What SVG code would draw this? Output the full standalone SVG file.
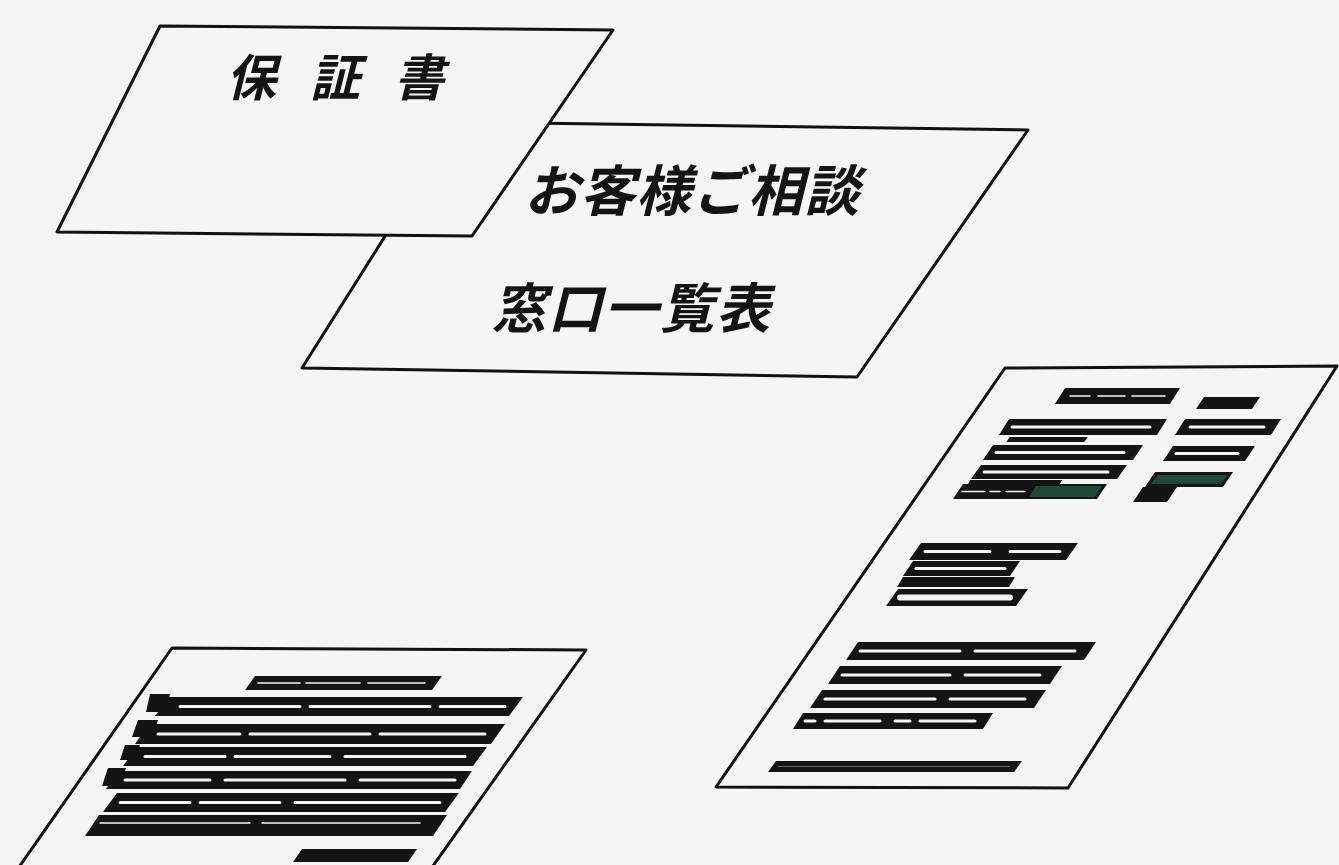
<svg xmlns="http://www.w3.org/2000/svg" width="1339" height="865" viewBox="0 0 1339 865">
<style>
.page{fill:#f5f5f5;stroke:#111;stroke-width:3;stroke-linejoin:round}
.bk{fill:#141414}
.gr{fill:#1e4a35}
.wl{stroke:#f5f5f5;stroke-width:3;stroke-linecap:round;fill:none}
.wt{stroke:#f5f5f5;stroke-width:1.5;stroke-linecap:round;fill:none}
.tx{font-family:"Noto Sans CJK JP","Noto Sans CJK SC",sans-serif;font-weight:700;font-style:italic;fill:#141414}
</style>
<rect width="1339" height="865" fill="#f5f5f5"/>
<g id="connectors"/>

<g id="doc-contact-list">
<polygon class="page" points="457,122 1028,130 857,377 302,368"/>
<text class="tx" x="524" y="211" font-size="55" letter-spacing="1">お客様ご相談</text>
<text class="tx" x="492" y="328" font-size="54" letter-spacing="2">窓口一覧表</text>
</g>

<g id="doc-warranty">
<polygon class="page" points="160,26 613,30 472,236 57,232"/>
<text class="tx" x="226" y="96" font-size="50" letter-spacing="34">保証書</text>
</g>

<g id="doc-manual-right">
<polygon class="page" points="1005,368 1337,366 1068,788 716,787"/>
<polygon class="bk" points="1065,388 1180,388 1170,404 1055,404"/>
<path class="wt" d="M1070,396 H1090 M1098,396 H1125 M1132,396 H1165"/>
<polygon class="bk" points="1204,397 1260,397 1252,409 1196,409"/>
<polygon class="bk" points="1009,419 1167,419 1157,435 999,435"/>
<line class="wl" x1="1012" y1="427" x2="1150" y2="427"/>
<polygon class="bk" points="1185,419 1281,419 1271,435 1175,435"/>
<line class="wl" x1="1190" y1="427" x2="1264" y2="427"/>
<polygon class="bk" points="1010,437 1088,437 1084,442 1006,442"/>
<polygon class="bk" points="993,445 1143,445 1133,460 983,460"/>
<line class="wl" x1="996" y1="452.5" x2="1124" y2="452.5"/>
<polygon class="bk" points="1173,446 1255,446 1245,461 1163,461"/>
<line class="wl" x1="1176" y1="453.5" x2="1238" y2="453.5"/>
<polygon class="bk" points="981,465 1127,465 1117,479 971,479"/>
<line class="wl" x1="984" y1="472" x2="1108" y2="472"/>
<polygon class="bk" points="970,480 1062,480 1060,484 968,484"/>
<polygon class="bk" points="963,484 1107,484 1097,499 953,499"/>
<polygon class="gr" points="1036,486 1102,486 1095,497 1029,497"/>
<path class="wt" d="M962,491.5 H985 M990,491.5 H1000 M1006,491.5 H1025"/>
<polygon class="bk" points="1155,472 1233,472 1223,487 1145,487"/>
<polygon class="gr" points="1158,475 1228,475 1221,484 1151,484"/>
<polygon class="bk" points="1143,487 1177,487 1167,502 1133,502"/>
<polygon class="bk" points="921,543 1078,543 1066,560 909,560"/>
<path class="wl" d="M925,551.5 H990 M1010,551.5 H1060"/>
<polygon class="bk" points="913,561 1020,561 1010,576 903,576"/>
<line class="wl" x1="916" y1="568.5" x2="1005" y2="568.5"/>
<polygon class="bk" points="903,577 1015,577 1009,587 897,587"/>
<polygon class="bk" points="898,589 1028,589 1016,606 886,606"/>
<line class="wl" x1="900" y1="597.5" x2="1010" y2="597.5" style="stroke-width:6"/>
<polygon class="bk" points="858,642 1096,642 1084,660 846,660"/>
<path class="wl" d="M860,651 H960 M975,651 H1075"/>
<polygon class="bk" points="840,666 1062,666 1050,684 828,684"/>
<path class="wl" d="M842,675 H950 M965,675 H1040"/>
<polygon class="bk" points="822,690 1046,690 1034,708 810,708"/>
<path class="wl" d="M825,699 H935 M950,699 H1025"/>
<polygon class="bk" points="803,713 993,713 983,729 793,729"/>
<path class="wl" d="M805,721 H815 M825,721 H880 M895,721 H910 M920,721 H975"/>
<polygon class="bk" points="776,761 1022,761 1014,772 768,772"/>
<line x1="778" y1="766.5" x2="1010" y2="766.5" stroke="#666" stroke-width="1.2"/>
</g>

<g id="doc-manual-left">
<polygon class="page" points="172,648 586,650 423,880 10,880"/>
<polygon class="bk" points="255,676 442,676 432,690 245,690"/>
<path class="wt" d="M258,683 H300 M306,683 H360 M368,683 H425"/>
<polygon class="bk" points="150,694 170,694 166,712 146,712"/>
<polygon class="bk" points="169,697 523,697 509,716 155,716"/>
<path class="wl" d="M180,706.5 H300 M310,706.5 H430 M440,706.5 H505"/>
<polygon class="bk" points="138,720 158,720 152,737 132,737"/>
<polygon class="bk" points="149,724 505,724 491,744 135,744"/>
<path class="wl" d="M158,734 H240 M250,734 H370 M380,734 H485"/>
<polygon class="bk" points="125,745 140,745 135,760 120,760"/>
<polygon class="bk" points="137,747 487,747 473,766 123,766"/>
<path class="wl" d="M145,756.5 H225 M235,756.5 H330 M345,756.5 H465"/>
<polygon class="bk" points="108,768 126,768 120,786 102,786"/>
<polygon class="bk" points="118,771 472,771 460,789 106,789"/>
<path class="wl" d="M125,780 H210 M225,780 H345 M360,780 H455"/>
<polygon class="bk" points="117,793 459,793 445,812 103,812"/>
<path class="wl" d="M120,802.5 H190 M200,802.5 H280 M295,802.5 H440"/>
<polygon class="bk" points="99,815 447,815 433,836 85,836"/>
<path class="wt" d="M100,823 H250 M262,823 H420"/>
<polygon class="bk" points="302,849 417,849 408,862 293,862"/>
</g>
</svg>
